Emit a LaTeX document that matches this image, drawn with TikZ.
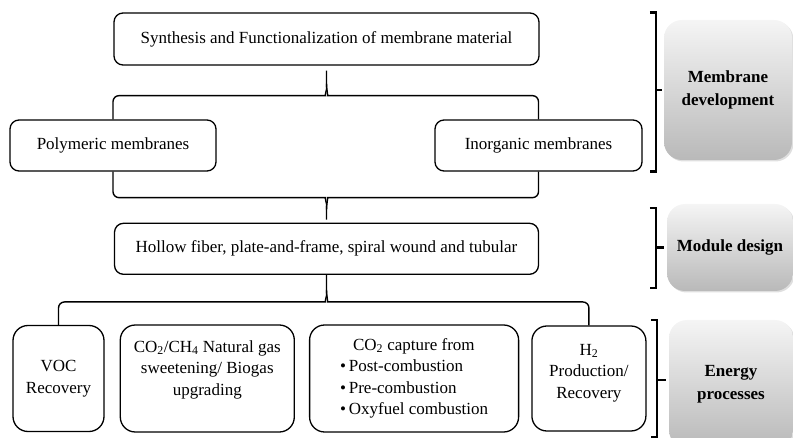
\documentclass[tikz,border=0pt]{standalone}
\usepackage{fontspec}
\setmainfont{Liberation Serif}
\usetikzlibrary{positioning}
\usetikzlibrary{calc,shadows}
\tikzset{
whitebox/.style={rectangle, rounded corners=9pt, draw=black, fill=white, line width=1.3pt, align=center, inner sep=2pt, font=\fontsize{17}{21.5}\selectfont},
tallbox/.style={whitebox, rounded corners=15pt},
graybox/.style={rectangle, rounded corners=18pt, draw=none, top color=gray!8, bottom color=gray!55, align=center, font=\bfseries\fontsize{17}{23}\selectfont, drop shadow={opacity=0.25, shadow xshift=1.5pt, shadow yshift=-1.5pt}},
brace/.style={line width=1.4pt, rounded corners=6pt},
bracket/.style={line width=2.4pt}
}

\begin{document}
\begin{tikzpicture}[x=1pt, y=1pt, node distance=15 and 14]
\useasboundingbox (0,0) rectangle (793,-438);
%Nodes
\node [whitebox, minimum width=425, minimum height=52] (Synth) at (326.5,-39) {Synthesis and Functionalization of membrane material};
\node [whitebox, minimum width=206, minimum height=51] (Poly) at (113,-145.5) {Polymeric membranes};
\node [whitebox, minimum width=207, minimum height=51] (Inorg) at (538.5,-145.5) {Inorganic membranes};
\node [whitebox, minimum width=424, minimum height=51] (Hollow) [below=157 of Synth] {Hollow fiber, plate-and-frame, spiral wound and tubular};
\node [tallbox, minimum width=91, minimum height=106] (VOC) at (58.5,-378.5) {VOC\\Recovery};
\node [tallbox, minimum width=174, minimum height=107] (Gas) [right=15 of VOC] {CO\textsubscript{2}/CH\textsubscript{4} Natural gas\\sweetening/ Biogas\\upgrading\\[0pt]\mbox{}};
\node [tallbox, minimum width=209, minimum height=107, align=left] (CCS) [right=14 of Gas] {\hspace*{13pt}CO\textsubscript{2} capture from\\\textbullet\,Post-combustion\\\textbullet\,Pre-combustion\\\textbullet\,Oxyfuel combustion};
\node [tallbox, minimum width=114, minimum height=105] (Htwo) [right=12 of CCS] {H\textsubscript{2}\\Production/\\Recovery\\[-7pt]\mbox{}};

\node [graybox, minimum width=128, minimum height=140] (Dev) at (728,-90) {Membrane\\development};
\node [graybox, minimum width=126, minimum height=87] (Mod) at (730,-247.5) {Module design};
\node [graybox, minimum width=124, minimum height=128] (Energy) at (731,-384) {Energy\\processes};

%Braces
\draw[brace] (Poly.north) |- ($(Synth.south)+(-7,-30)$) to[out=0,in=-90] ($(Synth.south)+(0,-18)$) -- ([yshift=-5]Synth.south);
\draw[brace] (Inorg.north) |- ($(Synth.south)+(7,-30)$) to[out=180,in=-90] ($(Synth.south)+(0,-18)$);
\draw[brace] (Poly.south) |- ($(Hollow.north)+(-7,25)$) to[out=0,in=90] ($(Hollow.north)+(0,13)$) -- ([yshift=3]Hollow.north);
\draw[brace] (Inorg.south) |- ($(Hollow.north)+(7,25)$) to[out=180,in=90] ($(Hollow.north)+(0,13)$);
\draw[brace] (VOC.north) |- ($(Hollow.south)+(-7,-27)$) to[out=0,in=-90] ($(Hollow.south)+(0,-15)$) -- (Hollow.south);
\draw[brace] (Htwo.north) |- ($(Hollow.south)+(7,-27)$) to[out=180,in=-90] ($(Hollow.south)+(0,-15)$);

%Brackets
\draw[bracket] ([xshift=-14]Dev.west |- Synth.north) -| ([xshift=-8]Dev.west) -- ([xshift=-2]Dev.west);
\draw[bracket] ([xshift=-8]Dev.west) |- ([xshift=-14]Dev.west |- Inorg.south);
\draw[bracket] ([xshift=-17,yshift=-4]Mod.north west) -| ([xshift=-11]Mod.west) -- ([xshift=-3]Mod.west);
\draw[bracket] ([xshift=-11]Mod.west) |- ([xshift=-17,yshift=3]Mod.south west);
\draw[bracket] ([xshift=-18]Energy.north west) -| ([xshift=-12,yshift=4]Energy.west) -- ([xshift=-3,yshift=4]Energy.west);
\draw[bracket] ([xshift=-12,yshift=4]Energy.west) |- ([xshift=-18,yshift=11]Energy.south west);

\end{tikzpicture}
\end{document}
